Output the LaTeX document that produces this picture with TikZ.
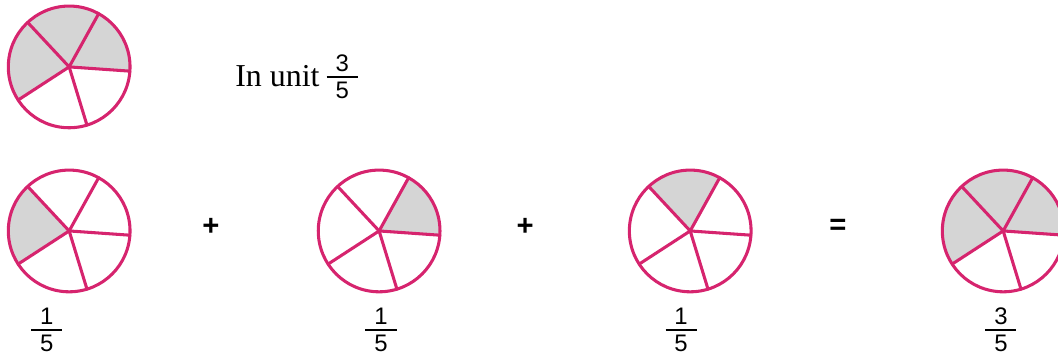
\documentclass[tikz,border=0pt]{standalone}
\usepackage{fontspec}
\setmainfont{Liberation Serif}
\setsansfont{Liberation Sans}
\usepackage{tikz}
\usetikzlibrary{positioning}
\usepackage{xcolor}
\definecolor{rimPink}{HTML}{D6246E}
\definecolor{sliceGray}{HTML}{D5D5D5}

% stacked fraction with a drawn bar
\newcommand{\partFrac}[2]{\vbox{\hsize=1.3em \offinterlineskip
    \hbox to \hsize{\hss#1\hss}\kern3pt
    \hrule height 1.5pt\kern3pt
    \hbox to \hsize{\hss#2\hss}}}

\begin{document}
\begin{tikzpicture}[
        rim/.style={draw=rimPink, line width=2.3pt, line cap=round},
        sliceFill/.style={fill=sliceGray},
        fracLabel/.style={inner sep=0pt, font=\sffamily\fontsize{18}{20}\selectfont},
        signLabel/.style={inner sep=0pt, font=\sffamily\bfseries\fontsize{22}{24}\selectfont},
        pics/pie/.style={code={
            \foreach \a/\b in {#1}
                \fill[sliceFill] (0,0) -- (\a:1.61) arc[start angle=\a, end angle=\b, radius=1.61] -- cycle;
            \draw[rim] (0,0) circle (1.61);
            \foreach \t in {133,61,-4,-73,213}
                \draw[rim] (0,0) -- (\t:1.61);
        }}
    ]
        \useasboundingbox (0,0) rectangle (27.99,9.50);
        \clip (0,0) rectangle (27.99,9.50);

        % Top: whole picture
        \pic (pieTop) at (1.83,7.73) {pie={-4/213}};
        \node[anchor=base west, inner sep=0pt, font=\fontsize{24}{28}\selectfont] (unitText) at (6.22,7.20) {In unit};
        \node[fracLabel, right=5pt of unitText.east, anchor=west] (unitFrac) {\partFrac{3}{5}};

        % Bottom row: the three parts and their sum
        \pic (pieA) at (1.83,3.39) {pie={133/213}};
        \pic (pieB) at (10.03,3.39) {pie={-4/61}};
        \pic (pieC) at (18.26,3.39) {pie={61/133}};
        \pic (pieSum) at (26.54,3.39) {pie={-4/213}};

        \node[signLabel] (plusA) at (5.58,3.49) {+};
        \node[signLabel] (plusB) at (13.89,3.49) {+};
        \node[signLabel] (equal) at (22.17,3.49) {=};

        \node[fracLabel] (fracA) at (1.24,0.77) {\partFrac{1}{5}};
        \node[fracLabel] (fracB) at (10.08,0.77) {\partFrac{1}{5}};
        \node[fracLabel] (fracC) at (18.02,0.77) {\partFrac{1}{5}};
        \node[fracLabel] (fracSum) at (26.48,0.77) {\partFrac{3}{5}};
    \end{tikzpicture}
\end{document}
